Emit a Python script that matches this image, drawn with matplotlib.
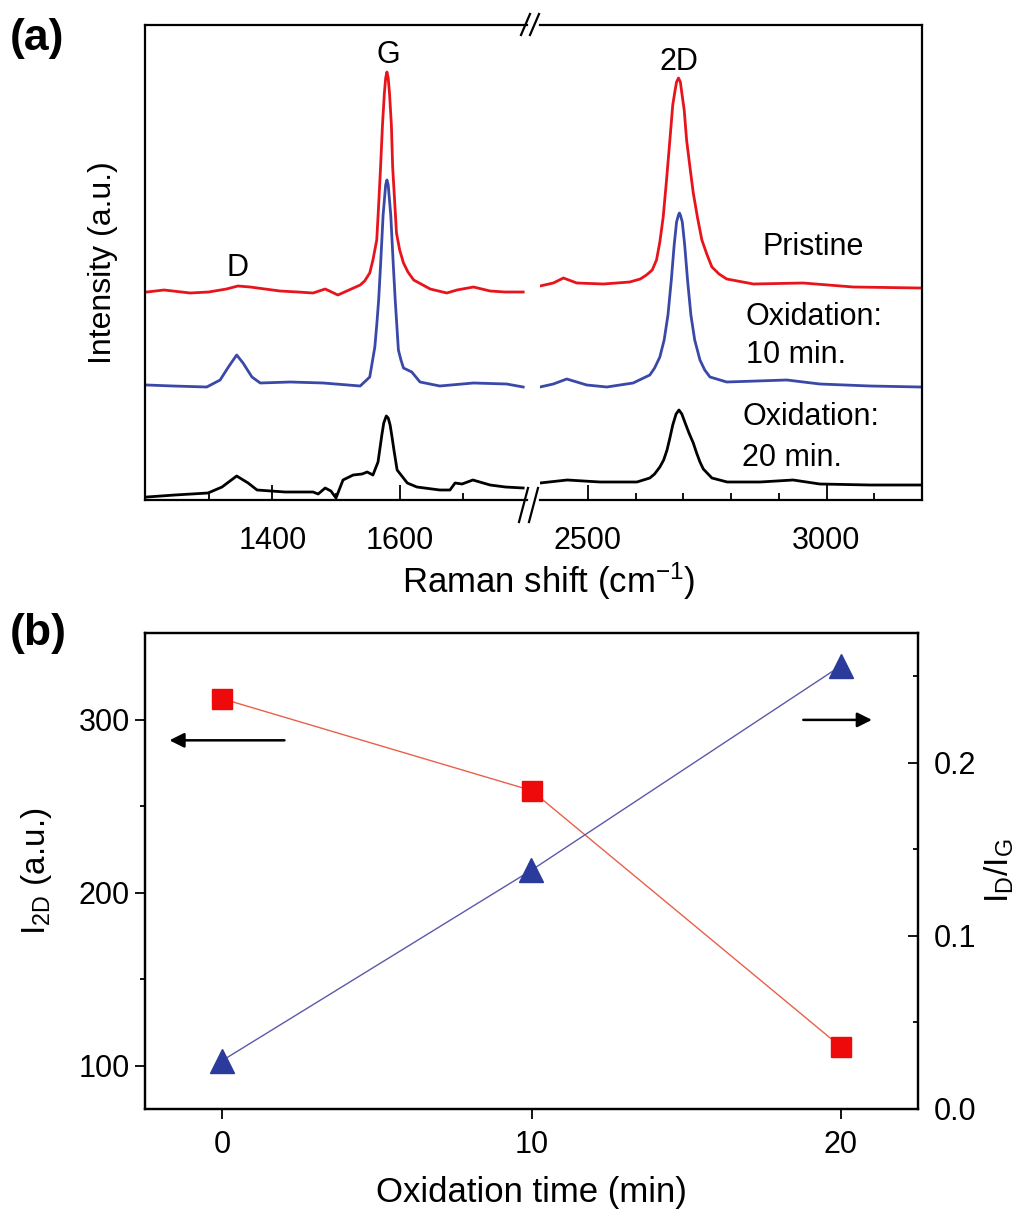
import matplotlib
matplotlib.use("Agg")
import matplotlib.pyplot as plt
from matplotlib.lines import Line2D

plt.rcParams['font.family'] = ['Liberation Sans', 'DejaVu Sans']
plt.rcParams['mathtext.default'] = 'regular'

# ---- (a) Raman spectra (offset intensity, a.u.) ----
red_left_x = [1203, 1230, 1271, 1300, 1328, 1346, 1365, 1412, 1440, 1464, 1483, 1503, 1517, 1538, 1545,
              1553, 1558, 1564, 1567, 1570, 1573, 1576, 1578, 1580, 1582, 1584, 1587, 1589, 1592, 1595,
              1600, 1606, 1613, 1622, 1648, 1674, 1690, 1716, 1742, 1765, 1794]
red_left_y = [208, 210, 207, 208, 211, 214, 213, 209, 208, 207, 211, 205, 209, 215, 219,
              227, 240, 260, 295, 333, 375, 407, 422, 428, 422, 407, 375, 333, 300, 267,
              250, 237, 228, 220, 211, 207, 210, 213, 209, 208, 208]
red_right_x = [2400, 2428, 2449, 2477, 2533, 2588, 2610, 2623, 2635, 2644, 2651, 2658, 2665, 2672,
               2678, 2683, 2686, 2690, 2694, 2697, 2702, 2707, 2714, 2721, 2730, 2739, 2750, 2760,
               2775, 2791, 2847, 2951, 3056, 3196]
red_right_y = [214, 217, 222, 217, 216, 218, 221, 225, 230, 240, 258, 283, 320, 360,
               395, 410, 418, 422, 418, 407, 390, 360, 333, 307, 282, 260, 245, 233,
               226, 221, 216, 217, 213, 212]

blue_left_x = [1203, 1244, 1297, 1318, 1331, 1344, 1354, 1368, 1381, 1428, 1480, 1538, 1553, 1561, 1564,
               1567, 1570, 1572, 1574, 1576, 1578, 1580, 1582, 1584, 1586, 1588, 1590, 1593, 1596, 1598,
               1602, 1606, 1619, 1632, 1663, 1716, 1768, 1794]
blue_left_y = [115, 114, 113, 120, 133, 145, 137, 123, 117, 118, 117, 114, 123, 153, 175,
               200, 235, 260, 285, 300, 315, 320, 315, 300, 285, 260, 235, 200, 170, 150,
               140, 132, 128, 118, 114, 117, 116, 113]
blue_right_x = [2400, 2428, 2456, 2498, 2540, 2595, 2630, 2640, 2651, 2660, 2668, 2675, 2681, 2686,
                2690, 2692, 2694, 2698, 2703, 2709, 2716, 2724, 2735, 2745, 2756, 2791, 2917, 2986,
                3091, 3196]
blue_right_y = [113, 116, 121, 115, 113, 117, 125, 132, 143, 160, 185, 220, 255, 278,
                285, 287, 285, 278, 255, 220, 185, 160, 140, 130, 123, 118, 120, 116,
                114, 113]

black_left_x = [1203, 1247, 1299, 1321, 1344, 1362, 1376, 1420, 1464, 1472, 1483, 1492, 1500, 1511, 1527,
                1541, 1549, 1558, 1566, 1572, 1575, 1579, 1582, 1585, 1588, 1591, 1596, 1612, 1627, 1663,
                1679, 1687, 1698, 1715, 1742, 1766, 1794]
black_left_y = [3, 5, 7, 13, 24, 17, 10, 8, 8, 6, 12, 9, 2, 20, 25,
                26, 28, 25, 38, 65, 77, 84, 82, 75, 63, 50, 30, 17, 13, 10,
                10, 17, 16, 20, 15, 13, 12]
black_right_x = [2400, 2457, 2526, 2603, 2630, 2640, 2651, 2659, 2666, 2672, 2678, 2685, 2691, 2697,
                 2704, 2712, 2721, 2728, 2735, 2742, 2750, 2760, 2792, 2861, 2930, 2986, 3091, 3200]
black_right_y = [17, 20, 18, 18, 22, 26, 33, 40, 50, 62, 75, 86, 90, 86,
                 77, 67, 57, 47, 38, 31, 27, 22, 18, 18, 20, 16, 15, 15]

# ---- (b) intensities vs oxidation time ----
ox_time = [0, 10, 20]
i2d = [312, 259, 111]
id_ig = [0.028, 0.138, 0.256]

RED = '#e8141c'
BLUE = '#3a48a8'

W, H = 1034, 1216
fig = plt.figure(figsize=(W / 100, H / 100), dpi=100)

ax1 = fig.add_axes([145 / W, 1 - 500 / H, 382 / W, 475 / H])
ax2 = fig.add_axes([540 / W, 1 - 500 / H, 382 / W, 475 / H])

ax1.plot(red_left_x, red_left_y, color=RED, lw=2.0)
ax1.plot(blue_left_x, blue_left_y, color=BLUE, lw=2.0)
ax1.plot(black_left_x, black_left_y, color='black', lw=2.0)
ax2.plot(red_right_x, red_right_y, color=RED, lw=2.0)
ax2.plot(blue_right_x, blue_right_y, color=BLUE, lw=2.0)
ax2.plot(black_right_x, black_right_y, color='black', lw=2.0)

ax1.set_xlim(1200, 1800)
ax2.set_xlim(2400, 3200)
for ax in (ax1, ax2):
    ax.set_ylim(0, 475)
    ax.set_yticks([])
    for s in ax.spines.values():
        s.set_linewidth(1.6)
    ax.tick_params(axis='x', which='major', direction='in', length=11, width=1.3,
                   labelsize=22, pad=19)
    ax.tick_params(axis='x', which='minor', direction='in', length=5, width=1.3)
ax1.spines['right'].set_visible(False)
ax2.spines['left'].set_visible(False)
ax1.set_xticks([1400, 1600])
ax1.set_xticks([1300, 1500, 1700], minor=True)
ax2.set_xticks([2500, 3000])
ax2.set_xticks([2600, 2700, 2800, 2900, 3100], minor=True)

ax1.set_ylabel('Intensity (a.u.)', fontsize=23)
ax1.yaxis.set_label_coords(-0.071, 0.5)
fig.text(549 / W, 1 - 581 / H, 'Raman shift (cm$^{-1}$)', fontsize=25, ha='center', va='center')

ax1.text(1582, 445, 'G', fontsize=22, ha='center', va='center')
ax1.text(1346, 232, 'D', fontsize=22, ha='center', va='center')
ax2.text(2690, 438, '2D', fontsize=22, ha='center', va='center')
ax2.text(2865, 253, 'Pristine', fontsize=22, ha='left', va='center')
ax2.text(2831, 183, 'Oxidation:', fontsize=22, ha='left', va='center')
ax2.text(2831, 145, '10 min.', fontsize=22, ha='left', va='center')
ax2.text(2824, 83, 'Oxidation:', fontsize=22, ha='left', va='center')
ax2.text(2824, 42, '20 min.', fontsize=22, ha='left', va='center')

# break marks
for (x0, y0, x1, y1) in [(521, 35, 530, 14), (530, 35, 539, 14),
                         (519, 522, 528, 488), (529, 522, 538, 488)]:
    fig.add_artist(Line2D([x0 / W, x1 / W], [1 - y0 / H, 1 - y1 / H],
                          transform=fig.transFigure, color='black', lw=1.6))

fig.text(10 / W, 1 - 18 / H, '(a)', fontsize=32, fontweight='bold', va='top', ha='left')
fig.text(10 / W, 1 - 613 / H, '(b)', fontsize=32, fontweight='bold', va='top', ha='left')

# ---- panel (b) ----
axb = fig.add_axes([145 / W, 1 - 1109 / H, 773 / W, 476 / H])
axr = axb.twinx()

axb.plot(ox_time, i2d, color='#e8604a', lw=1.0, zorder=2)
axb.plot(ox_time, i2d, ls='none', marker='s', ms=14, color='#ee0a0a', zorder=3)
axr.plot(ox_time, id_ig, color='#5a5aa8', lw=1.0, zorder=2)
axr.plot(ox_time, id_ig, ls='none', marker='^', ms=17, color='#2b3b9c', zorder=3)

axb.set_xlim(-2.5, 22.5)
axb.set_ylim(75, 350)
axr.set_ylim(0, 0.275)
axb.set_xticks(ox_time)
axb.set_yticks([100, 200, 300])
axb.set_yticks([150, 250], minor=True)
axr.set_yticks([0.0, 0.1, 0.2])
axr.set_yticks([0.05, 0.15, 0.25], minor=True)
axr.set_yticklabels(['0.0', '0.1', '0.2'])

for s in axb.spines.values():
    s.set_linewidth(1.6)
for s in axr.spines.values():
    s.set_linewidth(1.6)
axb.tick_params(axis='x', which='major', direction='out', length=7, width=1.3, labelsize=22, pad=8)
axb.tick_params(axis='y', which='major', direction='out', length=7, width=1.3, labelsize=22, pad=4)
axb.tick_params(axis='y', which='minor', direction='out', length=3.5, width=1.3)
axr.tick_params(axis='y', which='major', direction='in', length=7, width=1.3, labelsize=22, pad=11)
axr.tick_params(axis='y', which='minor', direction='in', length=3.5, width=1.3)

axb.set_xlabel('Oxidation time (min)', fontsize=25)
axb.xaxis.set_label_coords(0.5, -0.14)
axb.set_ylabel('I$_{2D}$ (a.u.)', fontsize=24)
axb.yaxis.set_label_coords(-0.118, 0.5)
axr.set_ylabel('I$_D$/I$_G$', fontsize=24)
axr.yaxis.set_label_coords(1.084, 0.5)

axb.annotate('', xy=(-1.8, 288), xytext=(2.1, 288),
             arrowprops=dict(arrowstyle='-|>', color='black', lw=1.8, mutation_scale=22))
axr.annotate('', xy=(21.1, 0.2248), xytext=(18.7, 0.2248),
             arrowprops=dict(arrowstyle='-|>', color='black', lw=1.8, mutation_scale=22))

fig.savefig('out.png', dpi=100)
